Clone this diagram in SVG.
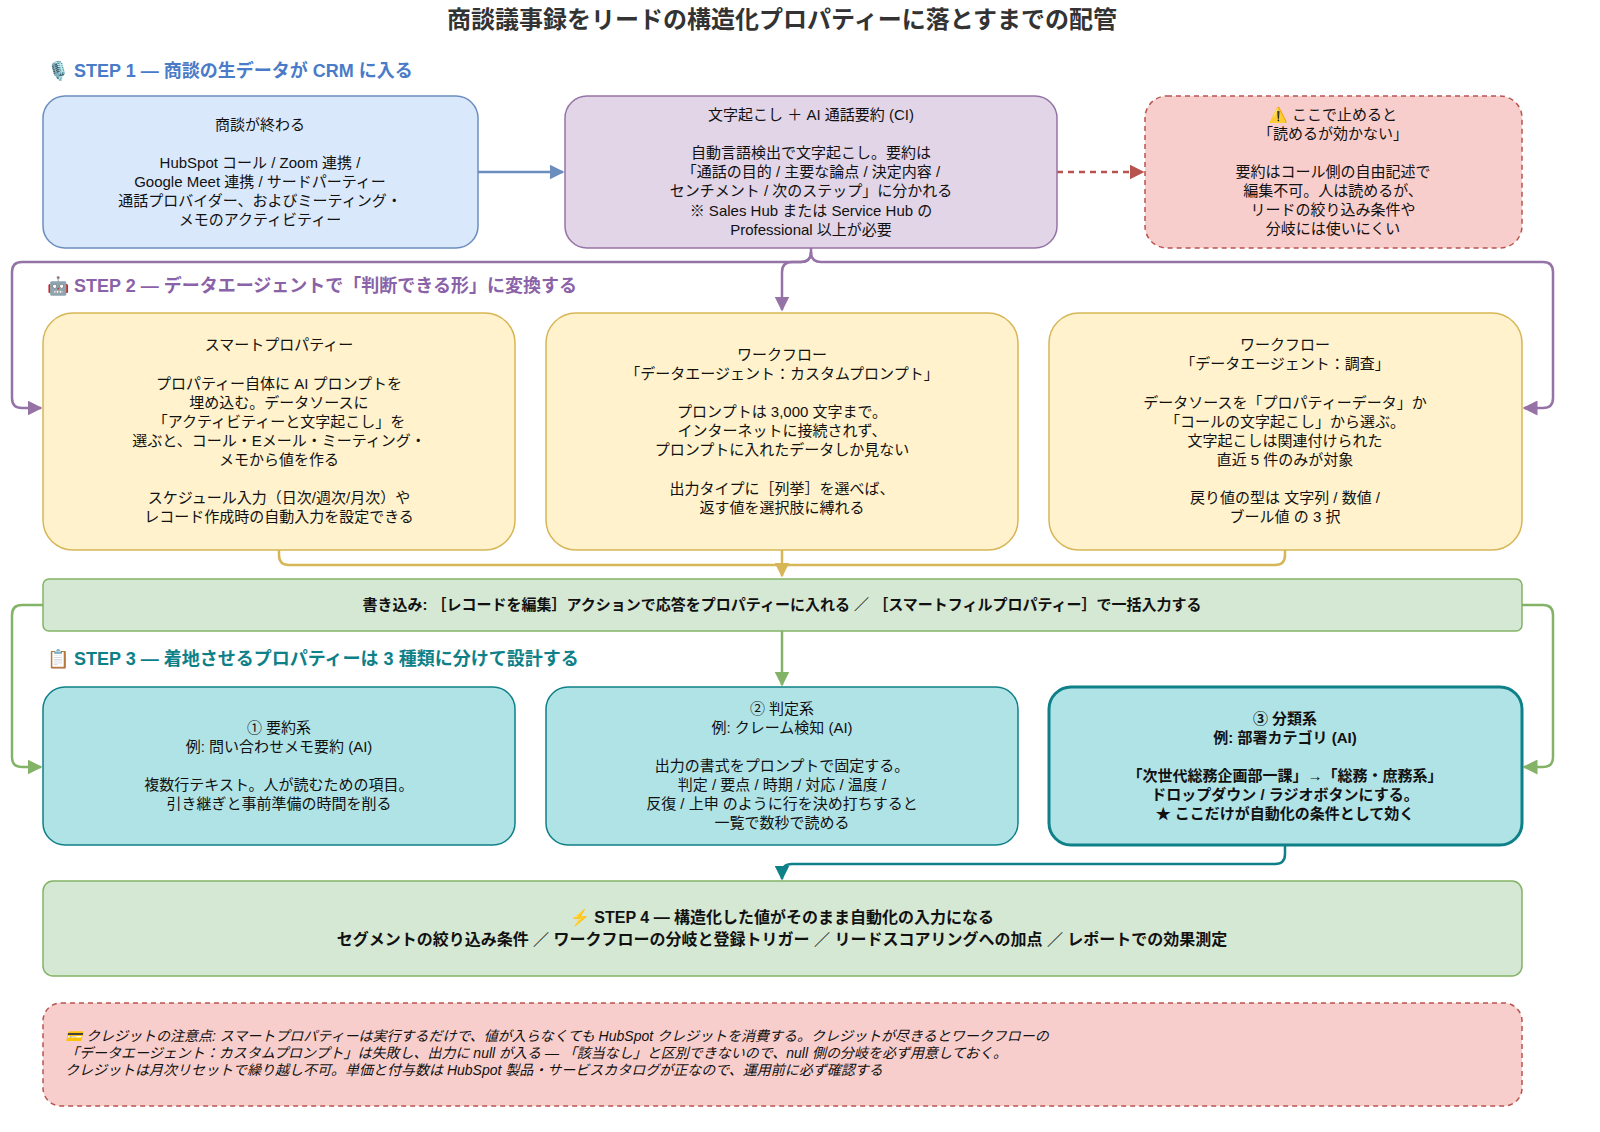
<svg xmlns="http://www.w3.org/2000/svg" width="1600" height="1132" viewBox="0 0 1600 1132">
<style>
text{font-family:"Liberation Sans","Noto Sans CJK JP",sans-serif;font-size:15px;fill:#111;text-anchor:middle}
.t{font-size:24px;font-weight:bold;fill:#333}
.h{font-size:18px;font-weight:bold;text-anchor:start}
.b{font-weight:bold}
.n{font-style:italic;text-anchor:start;font-size:14px}
.c{fill:none;stroke-width:2.5}
</style>
<defs>
<marker id="mb" viewBox="0 0 10 10" refX="9" refY="5" markerWidth="6" markerHeight="6" orient="auto"><path d="M0,0L10,5L0,10z" fill="#6c8ebf"/></marker>
<marker id="mr" viewBox="0 0 10 10" refX="9" refY="5" markerWidth="6" markerHeight="6" orient="auto"><path d="M0,0L10,5L0,10z" fill="#b85450"/></marker>
<marker id="mp" viewBox="0 0 10 10" refX="9" refY="5" markerWidth="6" markerHeight="6" orient="auto"><path d="M0,0L10,5L0,10z" fill="#9673a6"/></marker>
<marker id="my" viewBox="0 0 10 10" refX="9" refY="5" markerWidth="6" markerHeight="6" orient="auto"><path d="M0,0L10,5L0,10z" fill="#d6b656"/></marker>
<marker id="mg" viewBox="0 0 10 10" refX="9" refY="5" markerWidth="6" markerHeight="6" orient="auto"><path d="M0,0L10,5L0,10z" fill="#82b366"/></marker>
<marker id="mt" viewBox="0 0 10 10" refX="9" refY="5" markerWidth="6" markerHeight="6" orient="auto"><path d="M0,0L10,5L0,10z" fill="#0e8088"/></marker>
</defs>
<rect width="1600" height="1132" fill="#fff"/>
<text class="t" x="782" y="28">商談議事録をリードの構造化プロパティーに落とすまでの配管</text>
<text class="h" x="47" y="77" style="fill:#4a7bc8">🎙️ STEP 1 — 商談の生データが CRM に入る</text>
<text class="h" x="47" y="292" style="fill:#8a62a8">🤖 STEP 2 — データエージェントで「判断できる形」に変換する</text>
<text class="h" x="47" y="665" style="fill:#0e8088">📋 STEP 3 — 着地させるプロパティーは 3 種類に分けて設計する</text>

<g id="connectors">
<path class="c" d="M478,172H563" stroke="#6c8ebf" marker-end="url(#mb)"/>
<path class="c" d="M1057,172H1143" stroke="#b85450" stroke-dasharray="6,5" marker-end="url(#mr)"/>
<path class="c" d="M811,248V252Q811,262 801,262H792Q782,262 782,272V310" stroke="#9673a6" marker-end="url(#mp)"/>
<path class="c" d="M811,252Q811,262 801,262H22Q12,262 12,272V398Q12,408 22,408H41" stroke="#9673a6" marker-end="url(#mp)"/>
<path class="c" d="M811,252Q811,262 821,262H1543Q1553,262 1553,272V398Q1553,408 1543,408H1524" stroke="#9673a6" marker-end="url(#mp)"/>
<path class="c" d="M279,550V555Q279,565 289,565H1275Q1285,565 1285,555V550" stroke="#d6b656"/>
<path class="c" d="M782,550V576" stroke="#d6b656" marker-end="url(#my)"/>
<path class="c" d="M782,631V685" stroke="#82b366" marker-end="url(#mg)"/>
<path class="c" d="M43,605H22Q12,605 12,615V757Q12,767 22,767H41" stroke="#82b366" marker-end="url(#mg)"/>
<path class="c" d="M1522,605H1543Q1553,605 1553,615V757Q1553,767 1543,767H1524" stroke="#82b366" marker-end="url(#mg)"/>
<path class="c" d="M1285,846V854Q1285,864 1275,864H792Q782,864 782,874V879" stroke="#0e8088" stroke-width="3" marker-end="url(#mt)"/>
</g>

<g id="n1"><rect x="43" y="96" width="435" height="152" rx="22" fill="#dae8fc" stroke="#6c8ebf" stroke-width="1.5"/>
<text x="260" y="130">商談が終わる</text><text x="260" y="168">HubSpot コール / Zoom 連携 /</text><text x="260" y="187">Google Meet 連携 / サードパーティー</text><text x="260" y="206">通話プロバイダー、およびミーティング・</text><text x="260" y="225">メモのアクティビティー</text></g>
<g id="n2"><rect x="565" y="96" width="492" height="152" rx="22" fill="#e1d5e7" stroke="#9673a6" stroke-width="1.5"/>
<text x="811" y="120">文字起こし ＋ AI 通話要約 (CI)</text><text x="811" y="158">自動言語検出で文字起こし。要約は</text><text x="811" y="177">「通話の目的 / 主要な論点 / 決定内容 /</text><text x="811" y="196">センチメント / 次のステップ」に分かれる</text><text x="811" y="216">※ Sales Hub または Service Hub の</text><text x="811" y="235">Professional 以上が必要</text></g>
<g id="n3"><rect x="1145" y="96" width="377" height="152" rx="22" fill="#f8cecc" stroke="#b85450" stroke-width="1.5" stroke-dasharray="5,4"/>
<text x="1333" y="120">⚠️ ここで止めると</text><text x="1333" y="139">「読めるが効かない」</text><text x="1333" y="177">要約はコール側の自由記述で</text><text x="1333" y="196">編集不可。人は読めるが、</text><text x="1333" y="215">リードの絞り込み条件や</text><text x="1333" y="234">分岐には使いにくい</text></g>

<g id="n4"><rect x="43" y="313" width="472" height="237" rx="30" fill="#fff2cc" stroke="#d6b656" stroke-width="1.5"/>
<text x="279" y="350">スマートプロパティー</text><text x="279" y="389">プロパティー自体に AI プロンプトを</text><text x="279" y="408">埋め込む。データソースに</text><text x="279" y="427">「アクティビティーと文字起こし」を</text><text x="279" y="446">選ぶと、コール・Eメール・ミーティング・</text><text x="279" y="465">メモから値を作る</text><text x="279" y="503">スケジュール入力（日次/週次/月次）や</text><text x="279" y="522">レコード作成時の自動入力を設定できる</text></g>
<g id="n5"><rect x="546" y="313" width="472" height="237" rx="30" fill="#fff2cc" stroke="#d6b656" stroke-width="1.5"/>
<text x="782" y="360">ワークフロー</text><text x="782" y="379">「データエージェント：カスタムプロンプト」</text><text x="782" y="417">プロンプトは 3,000 文字まで。</text><text x="782" y="436">インターネットに接続されず、</text><text x="782" y="455">プロンプトに入れたデータしか見ない</text><text x="782" y="494">出力タイプに［列挙］を選べば、</text><text x="782" y="513">返す値を選択肢に縛れる</text></g>
<g id="n6"><rect x="1049" y="313" width="473" height="237" rx="30" fill="#fff2cc" stroke="#d6b656" stroke-width="1.5"/>
<text x="1285" y="350">ワークフロー</text><text x="1285" y="369">「データエージェント：調査」</text><text x="1285" y="408">データソースを「プロパティーデータ」か</text><text x="1285" y="427">「コールの文字起こし」から選ぶ。</text><text x="1285" y="446">文字起こしは関連付けられた</text><text x="1285" y="465">直近 5 件のみが対象</text><text x="1285" y="503">戻り値の型は 文字列 / 数値 /</text><text x="1285" y="522">ブール値 の 3 択</text></g>

<g id="n7"><rect x="43" y="579" width="1479" height="52" rx="6" fill="#d5e8d4" stroke="#82b366" stroke-width="1.5"/>
<text class="b" x="782" y="610">書き込み: ［レコードを編集］アクションで応答をプロパティーに入れる ／ ［スマートフィルプロパティー］で一括入力する</text></g>

<g id="n8"><rect x="43" y="687" width="472" height="158" rx="22" fill="#b0e3e6" stroke="#0e8088" stroke-width="1.5"/>
<text x="279" y="733">① 要約系</text><text x="279" y="752">例: 問い合わせメモ要約 (AI)</text><text x="279" y="790">複数行テキスト。人が読むための項目。</text><text x="279" y="809">引き継ぎと事前準備の時間を削る</text></g>
<g id="n9"><rect x="546" y="687" width="472" height="158" rx="22" fill="#b0e3e6" stroke="#0e8088" stroke-width="1.5"/>
<text x="782" y="714">② 判定系</text><text x="782" y="733">例: クレーム検知 (AI)</text><text x="782" y="771">出力の書式をプロンプトで固定する。</text><text x="782" y="790">判定 / 要点 / 時期 / 対応 / 温度 /</text><text x="782" y="809">反復 / 上申 のように行を決め打ちすると</text><text x="782" y="828">一覧で数秒で読める</text></g>
<g id="n10"><rect x="1049" y="687" width="473" height="158" rx="22" fill="#b0e3e6" stroke="#0e8088" stroke-width="3"/>
<text class="b" x="1285" y="724">③ 分類系</text><text class="b" x="1285" y="743">例: 部署カテゴリ (AI)</text><text class="b" x="1285" y="781">「次世代総務企画部一課」→「総務・庶務系」</text><text class="b" x="1285" y="800">ドロップダウン / ラジオボタンにする。</text><text class="b" x="1285" y="819">★ ここだけが自動化の条件として効く</text></g>

<g id="n11"><rect x="43" y="881" width="1479" height="95" rx="10" fill="#d5e8d4" stroke="#82b366" stroke-width="1.5"/>
<text class="b" x="782" y="923" style="font-size:16px">⚡ STEP 4 — 構造化した値がそのまま自動化の入力になる</text><text class="b" x="782" y="945" style="font-size:16px">セグメントの絞り込み条件 ／ ワークフローの分岐と登録トリガー ／ リードスコアリングへの加点 ／ レポートでの効果測定</text></g>

<g id="n12"><rect x="43" y="1003" width="1479" height="103" rx="18" fill="#f8cecc" stroke="#b85450" stroke-width="1.5" stroke-dasharray="5,4"/>
<text class="n" x="65" y="1041">💳 クレジットの注意点: スマートプロパティーは実行するだけで、値が入らなくても HubSpot クレジットを消費する。クレジットが尽きるとワークフローの</text><text class="n" x="65" y="1058">「データエージェント：カスタムプロンプト」は失敗し、出力に null が入る — 「該当なし」と区別できないので、null 側の分岐を必ず用意しておく。</text><text class="n" x="65" y="1075">クレジットは月次リセットで繰り越し不可。単価と付与数は HubSpot 製品・サービスカタログが正なので、運用前に必ず確認する</text></g>
</svg>
